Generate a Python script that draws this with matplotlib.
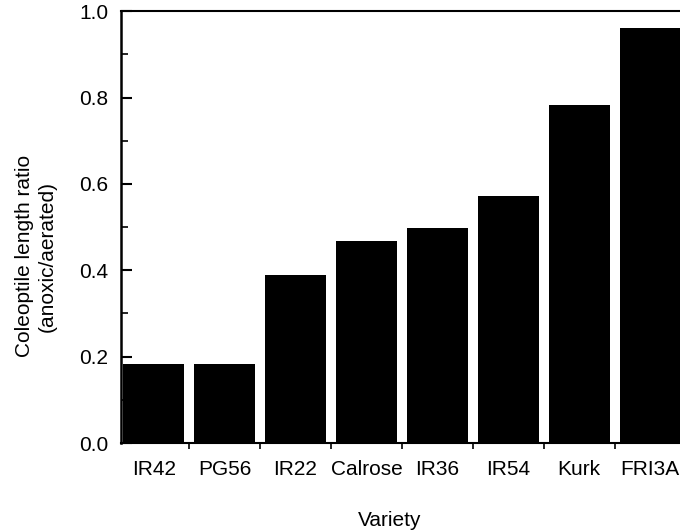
import matplotlib
matplotlib.use("Agg")
import matplotlib.pyplot as plt
import numpy as np

# coleoptile length ratio per rice variety
varieties = ["IR42", "PG56", "IR22", "Calrose", "IR36", "IR54", "Kurk", "FRI3A"]
ratios = [0.183, 0.182, 0.390, 0.468, 0.497, 0.571, 0.782, 0.960]
y_ticks = [0.0, 0.2, 0.4, 0.6, 0.8, 1.0]

plt.rcParams["font.family"] = ["Liberation Sans", "DejaVu Sans"]
fs = 15

fig = plt.figure(figsize=(6.8, 5.3), dpi=100)
ax = fig.add_axes([0.178, 0.164, 0.822, 0.815])

x = np.arange(len(varieties))
ax.bar(x, ratios, width=0.86, color="black", edgecolor="black", linewidth=0)

ax.set_xlim(-0.46, 7.42)
ax.set_ylim(0, 1.0)

# y axis: ticks pointing into the plot, minor ticks every 0.1
ax.set_yticks(y_ticks)
ax.set_yticklabels(["%.1f" % v for v in y_ticks])
ax.set_yticks(np.arange(0.1, 1.0, 0.2), minor=True)
ax.tick_params(axis="y", which="major", direction="in", length=8, width=1.5,
               labelsize=fs, pad=9)
ax.tick_params(axis="y", which="minor", direction="in", length=5, width=1.2)

# x axis: small tick marks sit in the gaps, labels under the bars
ax.set_xticks(x[:-1] + 0.5)
ax.set_xticklabels([])
ax.set_xticks(x, minor=True)
ax.set_xticklabels(varieties, minor=True)
ax.tick_params(axis="x", which="major", direction="out", length=4, width=1.2)
ax.tick_params(axis="x", which="minor", length=0, labelsize=fs, pad=12)

ax.spines["right"].set_visible(False)
ax.spines["left"].set_linewidth(1.8)
ax.spines["bottom"].set_linewidth(1.5)
ax.spines["top"].set_linewidth(1.5)

fig.text(36 / 680, 1 - 256 / 530, "Coleoptile length ratio\n(anoxic/aerated)",
         rotation=90, ha="center", va="center", fontsize=fs, linespacing=1.2)
fig.text(390 / 680, 1 - 521 / 530, "Variety", ha="center", va="center",
         fontsize=fs)

fig.savefig("out.png", dpi=100)
